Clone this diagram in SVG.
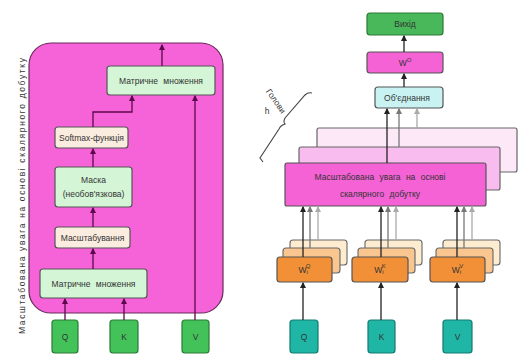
<svg xmlns="http://www.w3.org/2000/svg" width="518" height="363" viewBox="0 0 518 363">
<defs>
<marker id="ah" viewBox="0 0 6 6" refX="5" refY="3" markerWidth="5" markerHeight="5" orient="auto"><path d="M0,0 L6,3 L0,6 z" fill="#222"/></marker>
<marker id="ahg" viewBox="0 0 6 6" refX="5" refY="3" markerWidth="5" markerHeight="5" orient="auto"><path d="M0,0 L6,3 L0,6 z" fill="#777"/></marker>
<marker id="ahl" viewBox="0 0 6 6" refX="5" refY="3" markerWidth="5" markerHeight="5" orient="auto"><path d="M0,0 L6,3 L0,6 z" fill="#aaa"/></marker>
<marker id="ahp" viewBox="0 0 6 6" refX="5" refY="3" markerWidth="5" markerHeight="5" orient="auto"><path d="M0,0 L6,3 L0,6 z" fill="#5a0a4a"/></marker>
</defs>
<style>
text{font-family:"Liberation Sans",Arial,sans-serif;font-size:8.5px;fill:#333;text-anchor:middle;dominant-baseline:central}
.box{stroke:#555;stroke-width:1.2}
.lg{fill:#d4f5d6}
.cr{fill:#fbece0}
.gin{fill:#44c25a;stroke:#2a7a34;stroke-width:1.2}
.tin{fill:#1fb6a6;stroke:#137a70;stroke-width:1.2}
.c{fill:none;stroke:#222;stroke-width:1.3}
.cp{fill:none;stroke:#5a0a4a;stroke-width:1.3}
.cg{fill:none;stroke:#777;stroke-width:1.3}
.cl{fill:none;stroke:#aaa;stroke-width:1.3}
</style>
<rect width="518" height="363" fill="#fff"/>

<!-- LEFT DIAGRAM -->
<g id="sdpa-container">
<rect x="29" y="43" width="194" height="270" rx="22" fill="#f662d8" stroke="#6a2a5a" stroke-width="1.2"/>
<text x="22" y="196" transform="rotate(-90 22 196)" font-size="9" textLength="276" lengthAdjust="spacing">Масштабована увага на основі скалярного добутку</text>
</g>
<g id="matmul-top"><rect class="box lg" x="107" y="66" width="108" height="29" rx="3"/><text x="161" y="80.5" word-spacing="3">Матричне множення</text></g>
<g id="softmax"><rect class="box cr" x="55" y="127" width="73" height="21" rx="3"/><text x="91.5" y="137.5">Softmax-функція</text></g>
<g id="mask"><rect class="box lg" x="55" y="167" width="77" height="40" rx="3"/><text x="93.5" y="180">Маска</text><text x="93.5" y="194">(необов'язкова)</text></g>
<g id="scale"><rect class="box cr" x="55" y="227" width="75" height="21" rx="3"/><text x="92.5" y="237.5">Масштабування</text></g>
<g id="matmul-bottom"><rect class="box lg" x="40" y="269" width="107" height="29" rx="3"/><text x="93.5" y="283.5" word-spacing="3">Матричне множення</text></g>
<g id="q-left"><rect class="gin" x="52" y="320" width="26" height="33" rx="3"/><text x="65" y="336.5">Q</text></g>
<g id="k-left"><rect class="gin" x="110" y="320" width="28" height="33" rx="3"/><text x="124" y="336.5">K</text></g>
<g id="v-left"><rect class="gin" x="182" y="320" width="27" height="33" rx="3"/><text x="195.5" y="336.5">V</text></g>

<!-- RIGHT DIAGRAM -->
<g id="heads-brace">
<path d="M263,162 L260,158 L279,129 Q281,125 285,124 Q283,122 285,118 L305,95 Q308,92 312,93" fill="none" stroke="#444" stroke-width="1.1"/>
<text x="276" y="101" transform="rotate(55 276 101)" font-size="7">Голови</text>
<text x="267" y="111" font-size="7">h</text>
</g>
<g id="attn-back"><rect x="317" y="128" width="200" height="44" rx="2" fill="#fde8f8" stroke="#666" stroke-width="1.2"/></g>
<g id="attn-mid"><rect x="299" y="147" width="201" height="43" rx="2" fill="#f9bcee" stroke="#666" stroke-width="1.2"/></g>
<g id="attn-front"><rect x="285" y="163" width="201" height="43" rx="2" fill="#f462d6" stroke="#555" stroke-width="1.2"/><text x="380" y="177" font-size="9.5" word-spacing="3">Масштабована увага на основі</text><text x="380" y="194" font-size="9.5" word-spacing="3">скалярного добутку</text></g>

<g id="output"><rect x="367" y="13" width="76" height="22" rx="3" fill="#48b85a" stroke="#2a7a34" stroke-width="1.2"/><text x="405" y="24" font-size="9.5">Вихід</text></g>
<g id="wo"><rect x="367" y="52" width="76" height="21" rx="3" fill="#f462d6" stroke="#555" stroke-width="1.2"/><text x="405" y="62.5">W<tspan dy="-3" font-size="6">O</tspan></text></g>
<g id="concat"><rect x="375" y="87" width="68" height="21" rx="3" fill="#c8f3f2" stroke="#555" stroke-width="1.2"/><text x="407" y="97.5" font-size="9">Об'єднання</text></g>

<g id="wq">
<rect x="290" y="240" width="57" height="25" rx="3" fill="#fdecd0" stroke="#666" stroke-width="1.1"/>
<rect x="283" y="248" width="57" height="25" rx="3" fill="#f9c690" stroke="#666" stroke-width="1.1"/>
<rect x="277" y="257" width="55" height="25" rx="3" fill="#f29038" stroke="#555" stroke-width="1.2"/>
<text x="304.5" y="270">W<tspan dy="2" font-size="6">i</tspan><tspan dy="-6" dx="-2" font-size="6">Q</tspan></text>
</g>
<g id="wk">
<rect x="365" y="240" width="57" height="25" rx="3" fill="#fdecd0" stroke="#666" stroke-width="1.1"/>
<rect x="358" y="248" width="57" height="25" rx="3" fill="#f9c690" stroke="#666" stroke-width="1.1"/>
<rect x="352" y="257" width="56" height="25" rx="3" fill="#f29038" stroke="#555" stroke-width="1.2"/>
<text x="380" y="270">W<tspan dy="2" font-size="6">i</tspan><tspan dy="-6" dx="-2" font-size="6">K</tspan></text>
</g>
<g id="wv">
<rect x="443" y="240" width="57" height="25" rx="3" fill="#fdecd0" stroke="#666" stroke-width="1.1"/>
<rect x="436" y="248" width="57" height="25" rx="3" fill="#f9c690" stroke="#666" stroke-width="1.1"/>
<rect x="430" y="257" width="55" height="25" rx="3" fill="#f29038" stroke="#555" stroke-width="1.2"/>
<text x="457.5" y="270">W<tspan dy="2" font-size="6">i</tspan><tspan dy="-6" dx="-2" font-size="6">V</tspan></text>
</g>

<g id="q-right"><rect class="tin" x="290" y="320" width="28" height="33" rx="3"/><text x="304" y="336.5">Q</text></g>
<g id="k-right"><rect class="tin" x="368" y="320" width="27" height="33" rx="3"/><text x="381.5" y="336.5">K</text></g>
<g id="v-right"><rect class="tin" x="443" y="320" width="29" height="33" rx="3"/><text x="457.5" y="336.5">V</text></g>

<g id="connectors">
<!-- left -->
<path class="cp" d="M162,66 V45" marker-end="url(#ahp)"/>
<path class="cp" d="M93,127 V112 H132 V96" marker-end="url(#ahp)"/>
<path class="cp" d="M195,320 V96" marker-end="url(#ahp)"/>
<path class="cp" d="M93,167 V149" marker-end="url(#ahp)"/>
<path class="cp" d="M93,227 V208" marker-end="url(#ahp)"/>
<path class="cp" d="M93,269 V249" marker-end="url(#ahp)"/>
<path class="cp" d="M65,320 V299" marker-end="url(#ahp)"/>
<path class="cp" d="M124,320 V299" marker-end="url(#ahp)"/>
<!-- right top -->
<path class="c" d="M404,52 V36" marker-end="url(#ah)"/>
<path class="c" d="M404,87 V74" marker-end="url(#ah)"/>
<path class="c" d="M387,163 V109" marker-end="url(#ah)"/>
<path class="cg" d="M399,147 V109" marker-end="url(#ahg)"/>
<path class="cl" d="M417,128 V109" marker-end="url(#ahl)"/>
<!-- W to attention -->
<path class="c" d="M303,257 V207" marker-end="url(#ah)"/>
<path class="cg" d="M310,248 V207" marker-end="url(#ahg)"/>
<path class="cl" d="M318,240 V207" marker-end="url(#ahl)"/>
<path class="c" d="M381,257 V207" marker-end="url(#ah)"/>
<path class="cg" d="M388,248 V207" marker-end="url(#ahg)"/>
<path class="cl" d="M396,240 V207" marker-end="url(#ahl)"/>
<path class="c" d="M457,257 V207" marker-end="url(#ah)"/>
<path class="cg" d="M464,248 V207" marker-end="url(#ahg)"/>
<path class="cl" d="M472,240 V207" marker-end="url(#ahl)"/>
<!-- inputs -->
<path class="c" d="M303,320 V283" marker-end="url(#ah)"/>
<path class="c" d="M381,320 V283" marker-end="url(#ah)"/>
<path class="c" d="M457,320 V283" marker-end="url(#ah)"/>
</g>
</svg>
